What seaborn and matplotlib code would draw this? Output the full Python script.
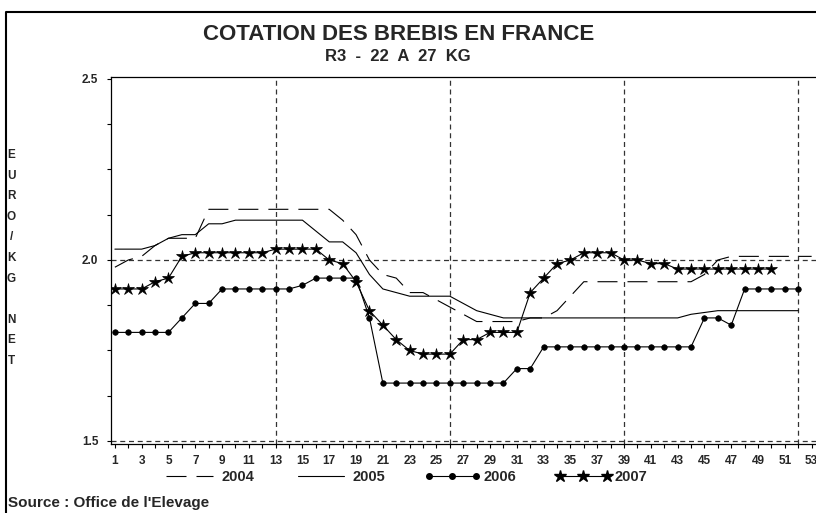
import matplotlib
matplotlib.use("Agg")
import matplotlib.pyplot as plt
import seaborn as sns
import pandas as pd
from matplotlib.lines import Line2D
from matplotlib.ticker import MultipleLocator, FixedLocator

# ---------------- data (EURO/KG NET, by week) ----------------
weeks_2004 = list(range(1, 54))
prix_2004 = [1.98, 2.00, 2.01, 2.04, 2.06, 2.06, 2.06,
             2.14, 2.14, 2.14, 2.14, 2.14, 2.14, 2.14, 2.14, 2.14, 2.14,
             2.11, 2.07, 2.00, 1.96, 1.95, 1.91, 1.91, 1.89, 1.87, 1.85,
             1.83, 1.83, 1.83, 1.83, 1.84, 1.84, 1.86, 1.90,
             1.94, 1.94, 1.94, 1.94, 1.94, 1.94, 1.94, 1.94, 1.94,
             1.96, 2.00, 2.01, 2.01, 2.01, 2.01, 2.01, 2.01, 2.01]

weeks_2005 = list(range(1, 53))
prix_2005 = [2.03, 2.03, 2.03, 2.04, 2.06, 2.07, 2.07, 2.10, 2.10,
             2.11, 2.11, 2.11, 2.11, 2.11, 2.11, 2.08, 2.05, 2.05,
             2.02, 1.96, 1.92, 1.91, 1.90, 1.90, 1.90, 1.90, 1.88, 1.86, 1.85,
             1.84, 1.84, 1.84, 1.84, 1.84, 1.84, 1.84, 1.84, 1.84, 1.84,
             1.84, 1.84, 1.84, 1.84, 1.85, 1.855,
             1.86, 1.86, 1.86, 1.86, 1.86, 1.86, 1.86]

weeks_2006 = list(range(1, 53))
prix_2006 = [1.80, 1.80, 1.80, 1.80, 1.80, 1.84, 1.88, 1.88,
             1.92, 1.92, 1.92, 1.92, 1.92, 1.92, 1.93, 1.95, 1.95, 1.95, 1.95,
             1.84, 1.66, 1.66, 1.66, 1.66, 1.66, 1.66, 1.66, 1.66, 1.66, 1.66,
             1.70, 1.70, 1.76, 1.76, 1.76, 1.76, 1.76, 1.76, 1.76, 1.76,
             1.76, 1.76, 1.76, 1.76, 1.84, 1.84, 1.82,
             1.92, 1.92, 1.92, 1.92, 1.92]

weeks_2007 = list(range(1, 51))
prix_2007 = [1.92, 1.92, 1.92, 1.94, 1.95, 2.01,
             2.02, 2.02, 2.02, 2.02, 2.02, 2.02, 2.03, 2.03, 2.03, 2.03,
             2.00, 1.99, 1.94, 1.86, 1.82, 1.78, 1.75, 1.74, 1.74, 1.74,
             1.78, 1.78, 1.80, 1.80, 1.80, 1.91, 1.95, 1.99, 2.00,
             2.02, 2.02, 2.02, 2.00, 2.00, 1.99, 1.99,
             1.975, 1.975, 1.975, 1.975, 1.975, 1.975, 1.975, 1.975]

years = ["2004", "2005", "2006", "2007"]
x_ticklabels = [str(w) for w in range(1, 54, 2)]
y_ticklabels = ["1.5", "2.0", "2.5"]

title = "COTATION DES BREBIS EN FRANCE"
subtitle = "R3  -  22  A  27  KG"
ylabel = "EURO/KG NET"
source = "Source : Office de l'Elevage"

df = pd.concat([
    pd.DataFrame({"semaine": weeks_2004, "prix": prix_2004, "annee": "2004"}),
    pd.DataFrame({"semaine": weeks_2005, "prix": prix_2005, "annee": "2005"}),
    pd.DataFrame({"semaine": weeks_2006, "prix": prix_2006, "annee": "2006"}),
    pd.DataFrame({"semaine": weeks_2007, "prix": prix_2007, "annee": "2007"}),
], ignore_index=True)

# ---------------- style ----------------
sns.set_style("ticks")
plt.rcParams["font.family"] = ["Liberation Sans", "DejaVu Sans"]
plt.rcParams["font.weight"] = "bold"

fig = plt.figure(figsize=(8.16, 5.13), dpi=100)
ax = fig.add_axes([0.1360, 0.1345, 0.8685, 0.7154])

dash04 = (0, (18, 9))
styles = {
    "2004": dict(linestyle=dash04, marker=None),
    "2005": dict(linestyle="-", marker=None),
    "2006": dict(linestyle="-", marker="o", markersize=4),
    "2007": dict(linestyle="-", marker="*", markersize=9),
}

# grid lines (dashed)
for w in [13, 26, 39, 52]:
    ax.axvline(w, color="#333333", lw=0.9, linestyle=(0, (4, 3)), zorder=1)
for v in [1.5, 2.0]:
    ax.axhline(v, color="#333333", lw=0.9, linestyle=(0, (4, 3)), zorder=1)

for yr in years:
    sub = df[df["annee"] == yr]
    st = styles[yr]
    kw = {}
    if st["marker"]:
        kw = dict(marker=st["marker"], markersize=st["markersize"],
                  markeredgecolor="black", markerfacecolor="black", markeredgewidth=0.5)
    sns.lineplot(data=sub, x="semaine", y="prix", ax=ax, color="black",
                 lw=0.8, linestyle=st["linestyle"], zorder=3, **kw)

ax.set_xlim(0.709, 53.6)
ax.set_ylim(1.4917, 2.5055)

ax.xaxis.set_major_locator(FixedLocator(list(range(1, 54, 2))))
ax.set_xticklabels(x_ticklabels)
ax.xaxis.set_minor_locator(FixedLocator(list(range(2, 54, 2))))
ax.yaxis.set_major_locator(FixedLocator([1.5, 2.0, 2.5]))
ax.set_yticklabels(y_ticklabels)
ax.yaxis.set_minor_locator(MultipleLocator(0.125))

ax.tick_params(axis="both", which="both", direction="out", length=3,
               width=0.8, color="black", labelsize=8.5)
ax.tick_params(axis="x", pad=5)
ax.tick_params(axis="y", pad=6)
for lab in ax.get_xticklabels() + ax.get_yticklabels():
    lab.set_fontweight("bold")

for s in ["left", "bottom", "top", "right"]:
    ax.spines[s].set_visible(True)
    ax.spines[s].set_color("black")
    ax.spines[s].set_linewidth(0.9)

ax.set_xlabel("")
ax.set_ylabel("")
if ax.get_legend():
    ax.get_legend().remove()

# titles
fig.text(0.488, 0.9318, title, ha="center", va="center", fontsize=16, fontweight="bold")
fig.text(0.488, 0.8889, subtitle, ha="center", va="center", fontsize=12, fontweight="bold")

# stacked y label
fig.text(0.0135, 0.497, "\n".join(list("EURO/KG") + [""] + list("NET")),
         ha="center", va="center", fontsize=8.5, fontweight="bold", linespacing=1.95)

# source
fig.text(0.0098, 0.0195, source, ha="left", va="center", fontsize=11, fontweight="bold")

# legend
handles = [
    Line2D([], [], color="black", lw=0.8, linestyle=dash04),
    Line2D([], [], color="black", lw=0.8, linestyle="-"),
    Line2D([], [], color="black", lw=0.8, linestyle="-", marker="o", markersize=4),
    Line2D([], [], color="black", lw=0.8, linestyle="-", marker="*", markersize=9),
]
fig.legend(handles, years, loc="center", bbox_to_anchor=(0.496, 0.070), ncol=4,
           frameon=False, handlelength=3.8, numpoints=3, columnspacing=2.7,
           handletextpad=0.25, prop={"weight": "bold", "size": 10.5})

# outer frame (left and top visible)
fig.add_artist(Line2D([0.0074, 0.0074, 1.01], [-0.01, 0.9766, 0.9766],
                      transform=fig.transFigure, color="black", lw=1.5))

fig.savefig("out.png", dpi=100)
